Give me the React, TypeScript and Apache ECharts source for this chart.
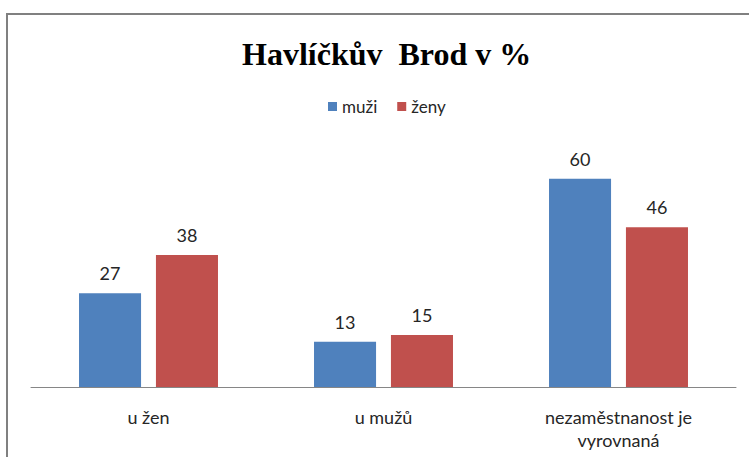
import React, { useEffect, useRef } from "react";
import * as echarts from "echarts";

const categories = ["u žen", "u mužů", "nezaměstnanost je\nvyrovnaná"];
const muzi = [27, 13, 60];
const zeny = [38, 15, 46];
const title = "Havlíčkův  Brod v %";

export default function App() {
  const ref = useRef<HTMLDivElement>(null);
  useEffect(() => {
    if (!ref.current) return;
    const chart = echarts.init(ref.current, null, { renderer: "svg" });
    const labelFont = { fontFamily: "Lato", fontSize: 18, color: "#262626" };
    chart.setOption({
      animation: false,
      backgroundColor: "#ffffff",
      title: {
        text: title,
        left: 237,
        top: 33,
        textStyle: {
          fontFamily: "Liberation Serif",
          fontWeight: "bold",
          fontSize: 32,
          color: "#000000",
        },
      },
      legend: {
        top: 93,
        left: 323,
        icon: "rect",
        itemWidth: 9,
        itemHeight: 9,
        itemGap: 20,
        textStyle: { fontFamily: "Lato", fontSize: 17, color: "#262626" },
        data: ["muži", "ženy"],
      },
      grid: { left: 31, right: 13, top: 144, bottom: 70 },
      xAxis: {
        type: "category",
        data: categories,
        axisLine: { lineStyle: { color: "#868686", width: 1 } },
        axisTick: { show: false },
        axisLabel: { ...labelFont, margin: 18, lineHeight: 23 },
      },
      yAxis: {
        type: "value",
        min: 0,
        max: 70,
        show: false,
        splitLine: { show: false },
      },
      graphic: [
        {
          type: "rect",
          silent: true,
          z: 100,
          shape: { x: 6, y: 13, width: 2, height: 460 },
          style: { fill: "#808080" },
        },
        {
          type: "rect",
          silent: true,
          z: 100,
          shape: { x: 6, y: 13, width: 760, height: 2 },
          style: { fill: "#808080" },
        },
      ],
      series: [
        {
          name: "muži",
          type: "bar",
          data: muzi,
          barWidth: "26.4%",
          barGap: "24%",
          itemStyle: { color: "#4F81BD" },
          label: { show: true, position: "top", distance: 11, ...labelFont },
        },
        {
          name: "ženy",
          type: "bar",
          data: zeny,
          barWidth: "26.4%",
          itemStyle: { color: "#C0504D" },
          label: { show: true, position: "top", distance: 11, ...labelFont },
        },
      ],
    });
    return () => chart.dispose();
  }, []);
  return (
    <div
      ref={ref}
      style={{ position: "fixed", left: 0, top: 0, width: 749, height: 457 }}
    />
  );
}
